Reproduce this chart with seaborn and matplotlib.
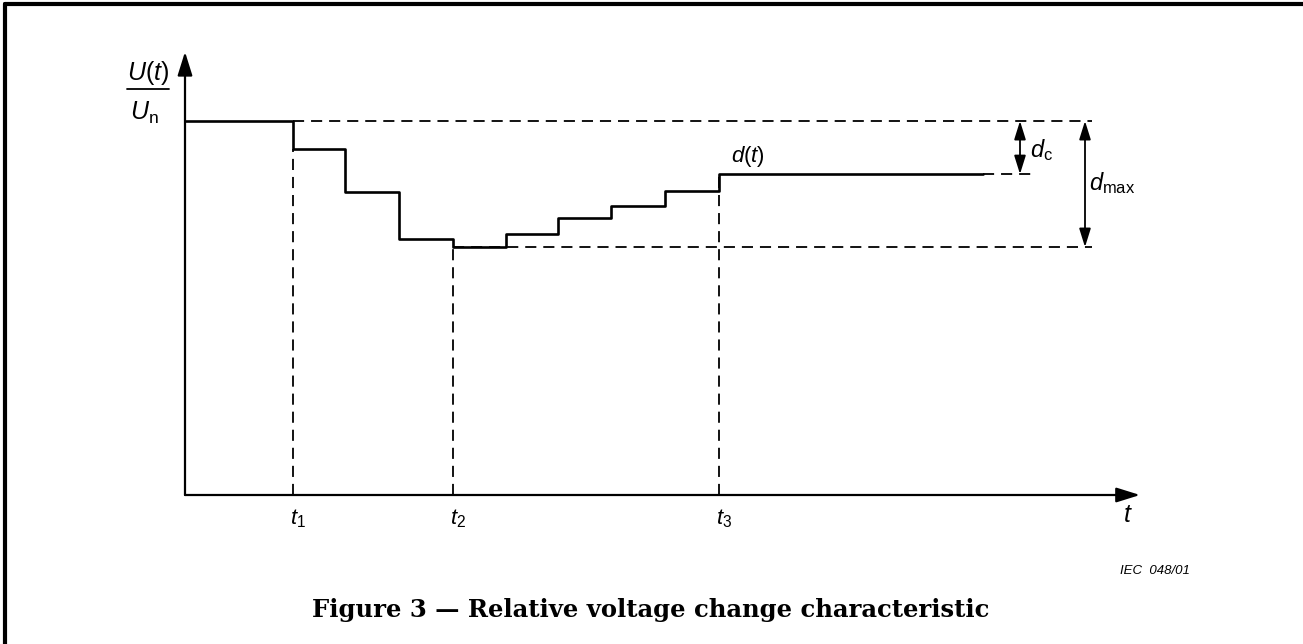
import numpy as np
import pandas as pd
import matplotlib
matplotlib.use('Agg')
import matplotlib.pyplot as plt
import seaborn as sns
from matplotlib.lines import Line2D

# --- data (time in arbitrary units, voltage as U/Un) ---
step_t = [0.0, 1.08, 1.60, 2.14, 2.68, 3.21, 3.73, 4.26, 4.80, 5.34, 7.98]
step_u = [1.0, 0.925, 0.810, 0.684, 0.663, 0.698, 0.741, 0.773, 0.813, 0.858, 0.858]
t_marks = [1.08, 2.68, 5.34]          # t1, t2, t3
t_labels = ['$t_1$', '$t_2$', '$t_3$']
u_start = 1.0        # initial level
u_min = 0.663        # lowest level (d_max reference)
u_end = 0.858        # steady-state level (d_c reference)

sns.set_style('white')
plt.rcParams['font.family'] = ['Liberation Sans', 'DejaVu Sans']
plt.rcParams['text.color'] = 'black'
plt.rcParams['mathtext.fontset'] = 'custom'
plt.rcParams['mathtext.it'] = 'Liberation Sans:italic'
plt.rcParams['mathtext.rm'] = 'Liberation Sans'
plt.rcParams['lines.scale_dashes'] = False

fig = plt.figure(figsize=(13.03, 6.44), dpi=100)
ax = fig.add_axes([185 / 1303, 149 / 644, 955 / 1303, 450 / 644])
ax.set_xlim(0, 9.55)
ax.set_ylim(0, 1.2032)
ax.set_axis_off()

# page frame (left and top only)
fig.add_artist(Line2D([5 / 1303, 5 / 1303], [0, 1 - 4 / 644], color='black', lw=3, transform=fig.transFigure))
fig.add_artist(Line2D([5 / 1303, 1], [1 - 4 / 644, 1 - 4 / 644], color='black', lw=3, transform=fig.transFigure))

# axes with arrows
head = '-|>,head_length=0.8,head_width=0.25'
ax.annotate('', xy=(9.55, 0), xytext=(0, 0), annotation_clip=False,
            arrowprops=dict(arrowstyle=head, lw=1.6, color='black', mutation_scale=18, shrinkA=0, shrinkB=0))
ax.annotate('', xy=(0, 1.185), xytext=(0, 0), annotation_clip=False,
            arrowprops=dict(arrowstyle=head, lw=1.6, color='black', mutation_scale=18, shrinkA=0, shrinkB=0))

# step curve
df = pd.DataFrame({'t': step_t, 'u': step_u})
sns.lineplot(data=df, x='t', y='u', drawstyle='steps-post', color='black', lw=1.9, ax=ax, sort=False)

# dashed guides
dash = dict(color='black', lw=1.3, ls=(0, (8, 5)))
ax.plot([t_marks[0], 9.07], [u_start, u_start], **dash)
ax.plot([t_marks[1], 9.07], [u_min, u_min], **dash)
ax.plot([step_t[-1], 8.52], [u_end, u_end], **dash)
for tm in t_marks:
    lvl = df.loc[df['t'] == tm, 'u'].iloc[0]
    ax.plot([tm, tm], [0, lvl], **dash)

# d_c and d_max dimension arrows
dim = dict(arrowstyle='<|-|>,head_length=0.8,head_width=0.25', lw=1.3, color='black',
           mutation_scale=14, shrinkA=0, shrinkB=0)
ax.annotate('', xy=(8.35, u_start), xytext=(8.35, u_end), arrowprops=dim, annotation_clip=False)
ax.annotate('', xy=(9.00, u_start), xytext=(9.00, u_min), arrowprops=dim, annotation_clip=False)

# labels
ax.text(-0.37, 1.128, '$U(t)$', fontsize=18, ha='center', va='center', clip_on=False)
ax.plot([-0.58, -0.16], [1.086, 1.086], color='black', lw=1.3, clip_on=False)
ax.text(-0.41, 1.021, r'$U_\mathrm{n}$', fontsize=18, ha='center', va='center', clip_on=False)
ax.text(5.63, 0.904, '$d(t)$', fontsize=16, ha='center', va='center')
ax.text(8.45, 0.922, r'$d_\mathrm{c}$', fontsize=17, ha='left', va='center', clip_on=False)
ax.text(9.04, 0.834, r'$d_\mathrm{max}$', fontsize=17, ha='left', va='center', clip_on=False)
for tm, lab in zip(t_marks, t_labels):
    ax.text(tm + 0.05, -0.064, lab, fontsize=16, ha='center', va='center', clip_on=False)
ax.text(9.43, -0.053, '$t$', fontsize=18, ha='center', va='center', clip_on=False)

fig.text(1155 / 1303, 1 - 571 / 644, 'IEC  048/01', fontsize=9.5, style='italic', ha='center', va='center')
fig.text(651 / 1303, 1 - 610 / 644, 'Figure 3 \u2014 Relative voltage change characteristic',
         fontsize=17.5, fontweight='bold', family='DejaVu Serif', ha='center', va='center')

fig.savefig('out.png', dpi=100)
